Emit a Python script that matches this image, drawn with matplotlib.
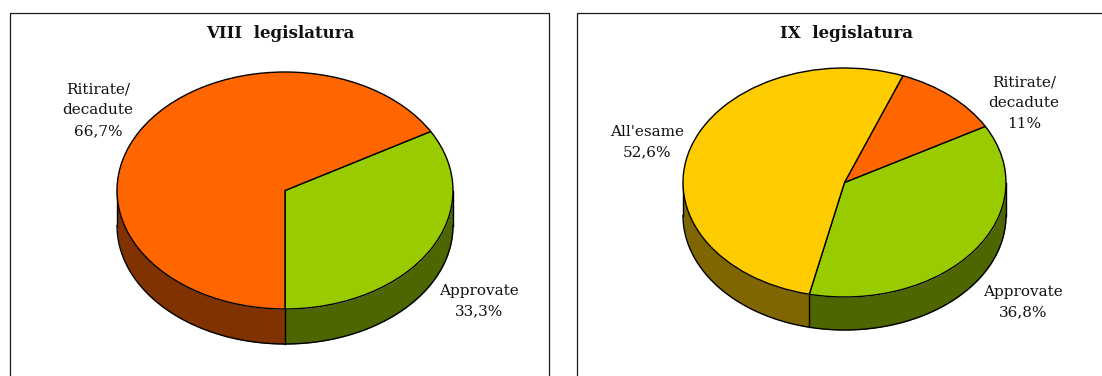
import matplotlib
matplotlib.use("Agg")
import numpy as np
import matplotlib.pyplot as plt

W, H = 1102, 376

# Left panel: VIII legislatura
titolo_viii = "VIII  legislatura"
etichette_viii = ["Approvate\n33,3%", "Ritirate/\ndecadute\n66,7%"]
valori_viii = [33.3, 66.7]
colori_viii = ["#99CC00", "#FF6600"]
fianchi_viii = ["#4D6600", "#803300"]

# Right panel: IX legislatura
titolo_ix = "IX  legislatura"
etichette_ix = ["Approvate\n36,8%", "Ritirate/\ndecadute\n11%", "All'esame\n52,6%"]
valori_ix = [36.8, 11.0, 52.6]
colori_ix = ["#99CC00", "#FF6600", "#FFCC00"]
fianchi_ix = ["#4D6600", "#803300", "#806600"]

FONT = ["DejaVu Serif"]
LABEL_PT = 11.0
TITLE_PT = 12.0

fig = plt.figure(figsize=(W / 100, H / 100), dpi=100, facecolor="white")


def pannello(x0, x1, top):
    """Open-bottomed frame around a panel, in pixel coordinates."""
    xs = [x0, x0, x1, x1]
    ys = [0, H - top, H - top, 0]
    fig.add_artist(plt.Line2D([x / W for x in xs], [y / H for y in ys],
                              color="#1a1a1a", lw=0.9, transform=fig.transFigure))


def torta(cx, cy, rx, ry, depth, valori, colori, fianchi, start):
    """Tilted pie: unit circle squashed to an ellipse, with a wall below the front edge."""
    ax = fig.add_axes([(cx - rx) / W, 1 - (cy + ry) / H, 2 * rx / W, 2 * ry / H])
    d = depth / ry
    edges = start + np.concatenate([[0], np.cumsum(valori)]) / np.sum(valori) * 360

    # Wall segments: only the part of each slice facing the viewer (180..360 deg)
    for a, b, c in zip(edges[:-1], edges[1:], fianchi):
        for shift in (0, -360, 360):
            lo, hi = max(a + shift, 180), min(b + shift, 360)
            if hi > lo:
                t = np.radians(np.linspace(lo, hi, 200))
                ax.fill_between(np.cos(t), np.sin(t), np.sin(t) - d, color=c, lw=0, clip_on=False, zorder=1)
                ax.plot([np.cos(t[0])] * 2, [np.sin(t[0]), np.sin(t[0]) - d], color="black", lw=1, clip_on=False, zorder=2)
                ax.plot(np.cos(t), np.sin(t) - d, color="black", lw=1, clip_on=False, zorder=2)
    ax.plot([1, 1], [0, -d], color="black", lw=1, clip_on=False, zorder=2)

    wedges, _ = ax.pie(valori, colors=colori, startangle=start, counterclock=True, radius=1,
                       wedgeprops=dict(edgecolor="black", linewidth=1, clip_on=False))
    for w in wedges:
        w.set_zorder(3)
    ax.set_aspect("auto")
    ax.set_xlim(-1, 1)
    ax.set_ylim(-1, 1)
    ax.axis("off")
    return ax


def testo(x, y, s, **kw):
    fig.text(x / W, 1 - y / H, s, ha="center", va="center", family=FONT, color="#111111",
             linespacing=1.62, **kw)


pannello(10, 548.5, 12.5)
pannello(577, 1102 + 5, 12.5)

torta(285, 190.5, 168, 118.5, 35, valori_viii, colori_viii, fianchi_viii, 270)
torta(844.5, 182.5, 161.5, 114.5, 33, valori_ix, colori_ix, fianchi_ix, -102.6)

testo(280, 34, titolo_viii, fontsize=TITLE_PT, fontweight="bold")
testo(846, 34, titolo_ix, fontsize=TITLE_PT, fontweight="bold")

testo(98, 110, etichette_viii[1], fontsize=LABEL_PT)
testo(479, 301, etichette_viii[0], fontsize=LABEL_PT)
testo(1024, 103, etichette_ix[1], fontsize=LABEL_PT)
testo(1023, 302, etichette_ix[0], fontsize=LABEL_PT)
testo(647, 142, etichette_ix[2], fontsize=LABEL_PT)

fig.savefig("out.png", dpi=100, facecolor="white")
